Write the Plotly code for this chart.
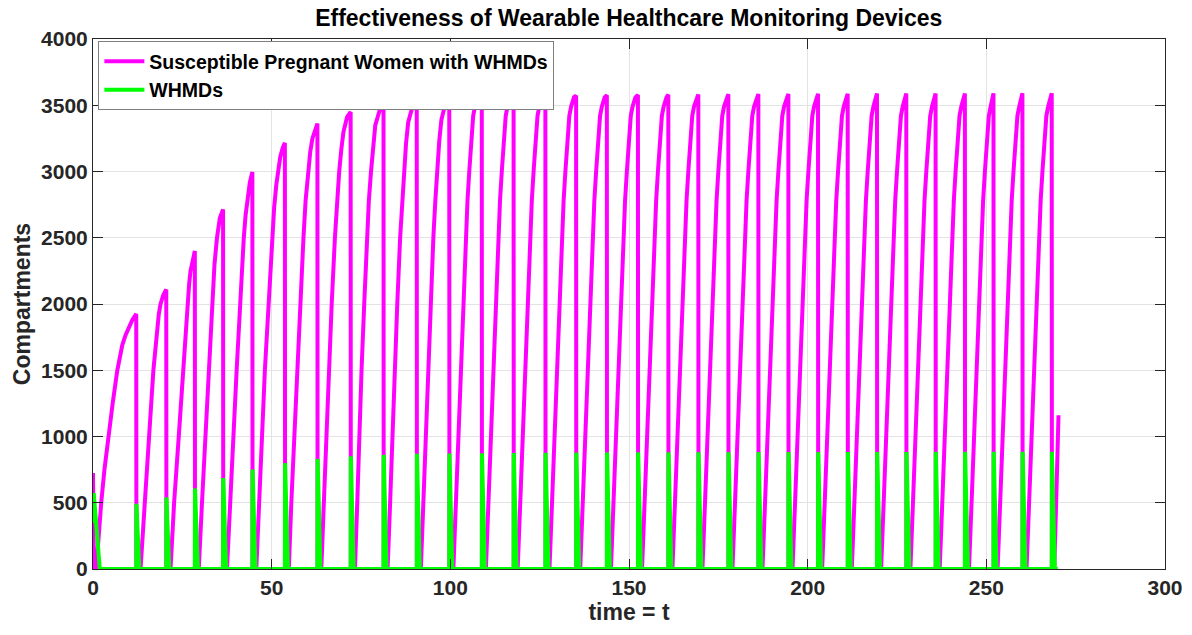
import plotly.graph_objects as go

# ---------------- data ----------------
drop_times = [12.1, 20.5, 28.5, 36.4, 44.6, 53.7, 62.8, 72.1, 81.3, 90.6, 99.7,
              108.8, 117.7, 126.6, 135.2, 143.8, 152.5, 161.0, 169.4, 177.8,
              186.2, 194.6, 202.9, 211.2, 219.4, 227.6, 235.8, 244.0, 252.0,
              260.1, 268.3]
peak_values = [1925, 2110, 2400, 2714, 2997, 3216, 3362, 3450, 3500, 3525, 3543,
               3551, 3560, 3568, 3572, 3576, 3578, 3580, 3582, 3583, 3584, 3585,
               3586, 3587, 3588, 3588, 3589, 3589, 3590, 3590, 3590]
whmd_heights = [492, 540, 608, 686, 751, 799, 831, 851, 861, 869, 871, 874, 876,
                877, 878, 879, 880, 880, 881, 881, 882, 882, 882, 883, 883, 883,
                884, 884, 884, 884, 884]

# start of the magenta curve (value at t = 0, then reset)
initial_t = [0.0, 0.25]
initial_v = [724, 0]

# rise points of the first cycles (time, value)
rise_early = [
    [(0.9, 0), (1.5, 250), (2.3, 500), (3.2, 750), (4.3, 1000), (5.5, 1250), (6.8, 1500), (7.5, 1610), (8.2, 1690), (9.1, 1765), (10.0, 1820), (11.0, 1880)],
    [(13.3, 0), (14.4, 500), (15.7, 1000), (16.9, 1500), (17.8, 1800), (18.4, 1920), (18.9, 2000), (19.7, 2070)],
    [(21.7, 0), (22.7, 500), (24.0, 1000), (25.2, 1500), (26.4, 2000), (26.9, 2150), (27.3, 2250), (27.9, 2340)],
    [(29.6, 0), (30.5, 500), (31.5, 1000), (32.4, 1500), (33.3, 2000), (34.0, 2300), (34.7, 2500), (35.5, 2650)],
    [(37.5, 0), (38.3, 500), (39.3, 1000), (40.2, 1500), (41.1, 2000), (42.2, 2500), (42.7, 2670), (43.2, 2780), (43.9, 2920)],
    [(45.7, 0), (46.4, 500), (47.3, 1000), (48.1, 1500), (49.1, 2000), (50.1, 2500), (50.7, 2730), (51.3, 2900), (52.4, 3110), (53.1, 3180)],
    [(54.8, 0), (55.5, 500), (56.3, 1000), (57.1, 1500), (57.9, 2000), (58.9, 2500), (59.5, 2780), (60.2, 3000), (60.8, 3150), (61.4, 3250), (62.1, 3320)],
    [(63.9, 0), (64.6, 500), (65.3, 1000), (66.0, 1500), (66.8, 2000), (67.7, 2500), (68.3, 2780), (68.9, 3000), (69.5, 3170), (70.1, 3300), (71.1, 3410)],
    [(73.3, 0), (73.95, 500), (74.5, 1000), (75.15, 1500), (75.9, 2000), (76.7, 2500), (77.2, 2780), (77.8, 3000), (78.4, 3200), (79.0, 3350), (80.2, 3460)],
    [(82.45, 0), (83.15, 500), (83.75, 1000), (84.4, 1500), (85.15, 2000), (85.95, 2500), (86.5, 2780), (87.0, 3000), (87.6, 3210), (88.2, 3370), (89.3, 3480)],
    [(91.75, 0), (92.45, 500), (93.05, 1000), (93.7, 1500), (94.45, 2000), (95.25, 2500), (95.8, 2780), (96.3, 3000), (96.9, 3230), (97.5, 3390), (98.5, 3500)],
]

# rise profile of the later (settled) cycles: time after the previous drop, value
late_offsets = [1.15, 1.5, 1.85, 2.45, 3.1, 3.85, 4.6, 5.1, 5.6, 6.1, 6.7, 7.2, 7.6, 8.0]
late_values = [0, 240, 500, 1000, 1500, 2000, 2500, 2780, 3000, 3230, 3420, 3490, 3530, 3560]

# last partial rise at the end of the run
final_t = [269.0, 269.6, 270.2]
final_v = [0, 560, 1160]

# WHMDs at t = 0
whmd_initial_t = [0.0, 0.2, 1.9]
whmd_initial_v = [347, 573, 0]
whmd_end_t = 270.0

x_ticks = [0, 50, 100, 150, 200, 250, 300]
y_ticks = [0, 500, 1000, 1500, 2000, 2500, 3000, 3500, 4000]

# ---------------- build traces ----------------
sx, sy = list(initial_t), list(initial_v)
for i, (d, p) in enumerate(zip(drop_times, peak_values)):
    if i < len(rise_early):
        for t, v in rise_early[i]:
            sx.append(t); sy.append(v)
    else:
        start = drop_times[i - 1]
        for o, v in zip(late_offsets, late_values):
            if start + o < d:
                sx.append(start + o); sy.append(min(v, p))
    sx.append(d); sy.append(p)
    sx.append(d + 0.05); sy.append(0)
sx += final_t
sy += final_v

gx, gy = list(whmd_initial_t), list(whmd_initial_v)
for d, h in zip(drop_times, whmd_heights):
    gx += [d, d + 0.05, d + 0.85]
    gy += [0, h, 0]
gx.append(whmd_end_t); gy.append(0)

FONT = "Liberation Sans, Arial, sans-serif"
fig = go.Figure()
fig.add_trace(go.Scatter(x=sx, y=sy, mode="lines",
                         name="<b>Susceptible Pregnant Women with WHMDs</b>",
                         line=dict(color="#FF00FF", width=4)))
fig.add_trace(go.Scatter(x=gx, y=gy, mode="lines", name="<b>WHMDs</b>",
                         line=dict(color="#00FF00", width=4)))

axis_common = dict(
    showgrid=True, gridcolor="#E3E3E3", gridwidth=1,
    showline=True, linecolor="#262626", linewidth=1, mirror="ticks",
    ticks="inside", ticklen=10, tickcolor="#262626",
    zeroline=False, automargin=False,
    tickfont=dict(family=FONT, size=21, color="#262626"),
)

fig.update_layout(
    width=1192, height=635,
    paper_bgcolor="white", plot_bgcolor="white",
    margin=dict(l=93, r=27, t=39, b=66),
    title=dict(text="<b>Effectiveness of Wearable Healthcare Monitoring Devices</b>",
               x=0.5275, xanchor="center", y=1 - 18 / 635, yanchor="middle",
               font=dict(family=FONT, size=23, color="black")),
    xaxis=dict(range=[0, 300], tickvals=x_ticks,
               ticktext=[f"<b>{v}</b>" for v in x_ticks],
               title=dict(text="<b>time = t</b>", standoff=2,
                          font=dict(family=FONT, size=23, color="#262626")),
               **axis_common),
    yaxis=dict(range=[0, 4000], tickvals=y_ticks,
               ticktext=[f"<b>{v}</b>" for v in y_ticks],
               title=dict(text="<b>Compartments</b>", standoff=4,
                          font=dict(family=FONT, size=23, color="#262626")),
               **axis_common),
    legend=dict(x=0.005, y=0.996, xanchor="left", yanchor="top",
                bgcolor="white", bordercolor="#7F7F7F", borderwidth=1,
                font=dict(family=FONT, size=19.5, color="black"),
                itemwidth=40, tracegroupgap=0),
    showlegend=True,
)

fig.write_html("out.html", config={"displayModeBar": False},
               post_script="document.body.style.margin='0';document.body.style.overflow='hidden';")
